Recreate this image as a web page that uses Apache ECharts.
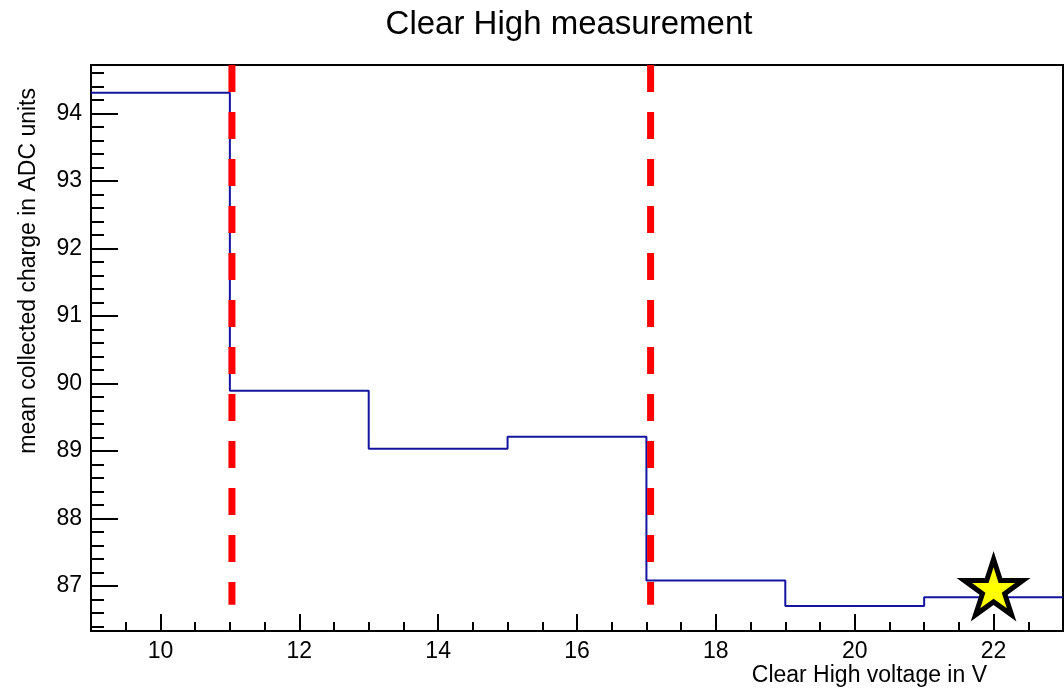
<!DOCTYPE html>
<html>
<head>
<meta charset="utf-8">
<script src="https://cdn.jsdelivr.net/npm/echarts@6/dist/echarts.min.js"></script>
<style>
html,body{margin:0;padding:0;background:#fff;}
#chart{width:1064px;height:689px;}
</style>
</head>
<body>
<div id="chart"></div>
<script>
// ---- data ----
const chartTitle = 'Clear High measurement';
const xTitle = 'Clear High voltage in V';
const yTitle = 'mean collected charge in ADC units';
const binEdges = [9, 11, 13, 15, 17, 19, 21, 23];
const binValues = [94.31, 89.89, 89.03, 89.21, 87.08, 86.70, 86.83];
const cutLinesX = [11.03, 17.06];
const cutLineBottom = 86.72;
const starPoint = [22, 86.94];
const xRange = [9, 23];
const yRange = [86.33, 94.72];
const xMajorTicks = [10, 12, 14, 16, 18, 20, 22];
const xMinorTicks = [9.5, 10.5, 11, 11.5, 12.5, 13, 13.5, 14.5, 15, 15.5, 16.5, 17, 17.5, 18.5, 19, 19.5, 20.5, 21, 21.5, 22.5];
const yMajorTicks = [87, 88, 89, 90, 91, 92, 93, 94];
const yMinorTicks = [86.4, 86.6, 86.8, 87.2, 87.4, 87.6, 87.8, 88.2, 88.4, 88.6, 88.8, 89.2, 89.4, 89.6, 89.8,
  90.2, 90.4, 90.6, 90.8, 91.2, 91.4, 91.6, 91.8, 92.2, 92.4, 92.6, 92.8, 93.2, 93.4, 93.6, 93.8, 94.2, 94.4, 94.6];

const FONT = '"Liberation Sans", Arial, Helvetica, sans-serif';

// histogram outline as step line through bin edges
const histData = binEdges.map((e, i) => [e, binValues[Math.min(i, binValues.length - 1)]]);

const starPath = 'path://M50,0 L61.17,34.63 L97.55,34.55 L68.07,55.87 L79.39,90.45 L50,69 L20.61,90.45 L31.93,55.87 L2.45,34.55 L38.83,34.63 Z';

const series = [
  {
    type: 'line', step: 'end', data: histData, symbol: 'none', z: 3,
    lineStyle: { color: '#1414a0', width: 2 }, xAxisIndex: 0, yAxisIndex: 0, animation: false
  }
];
cutLinesX.forEach(x => {
  series.push({
    type: 'line', data: [[x, yRange[1]], [x, cutLineBottom]], symbol: 'none', z: 4,
    lineStyle: { color: '#ff0000', width: 7, type: [27, 20], cap: 'butt' }, animation: false
  });
});
// star marker: black outer star with yellow inner star
series.push({
  type: 'scatter', data: [starPoint], symbol: starPath, symbolSize: [74, 70.5], symbolOffset: [0, -3.5],
  itemStyle: { color: '#000000', opacity: 1 }, z: 6, animation: false
});
series.push({
  type: 'scatter', data: [starPoint], symbol: starPath, symbolSize: [43, 41], symbolOffset: [0, -2],
  itemStyle: { color: '#ffff00', opacity: 1 }, z: 7, animation: false
});

const chart = echarts.init(document.getElementById('chart'));
chart.setOption({
  animation: false,
  backgroundColor: '#fff',
  grid: { left: 91, right: 1, top: 65, bottom: 58, show: true, borderColor: '#000', borderWidth: 2, backgroundColor: 'transparent' },
  xAxis: [
    {
      type: 'value', min: xRange[0], max: xRange[1], position: 'bottom',
      axisLine: { show: true, lineStyle: { color: '#000', width: 2 } },
      axisTick: { show: true, inside: true, length: 17, customValues: xMajorTicks, lineStyle: { color: '#000', width: 2 } },
      axisLabel: { show: true, customValues: xMajorTicks, margin: 9, fontSize: 23, color: '#000', fontFamily: FONT },
      splitLine: { show: false }
    },
    {
      type: 'value', min: xRange[0], max: xRange[1], position: 'bottom',
      axisLine: { show: false },
      axisTick: { show: true, inside: true, length: 9, customValues: xMinorTicks, lineStyle: { color: '#000', width: 2 } },
      axisLabel: { show: false }, splitLine: { show: false }
    }
  ],
  yAxis: [
    {
      type: 'value', min: yRange[0], max: yRange[1], position: 'left',
      axisLine: { show: true, lineStyle: { color: '#000', width: 2 } },
      axisTick: { show: true, inside: true, length: 27, customValues: yMajorTicks, lineStyle: { color: '#000', width: 2 } },
      axisLabel: { show: true, customValues: yMajorTicks, margin: 9, fontSize: 23, color: '#000', fontFamily: FONT },
      splitLine: { show: false }
    },
    {
      type: 'value', min: yRange[0], max: yRange[1], position: 'left',
      axisLine: { show: false },
      axisTick: { show: true, inside: true, length: 13, customValues: yMinorTicks, lineStyle: { color: '#000', width: 2 } },
      axisLabel: { show: false }, splitLine: { show: false }
    }
  ],
  graphic: [
    { type: 'text', x: 569, y: 25, style: { text: chartTitle, fontSize: 33, fontFamily: FONT, fill: '#000', textAlign: 'center', textVerticalAlign: 'middle' } },
    { type: 'text', x: 987, y: 676, style: { text: xTitle, fontSize: 23, fontFamily: FONT, fill: '#000', textAlign: 'right', textVerticalAlign: 'middle' } },
    { type: 'text', x: 29, y: 88, rotation: Math.PI / 2, style: { text: yTitle, fontSize: 23, fontFamily: FONT, fill: '#000', textAlign: 'right', textVerticalAlign: 'middle' } }
  ],
  series: series
});
</script>
</body>
</html>
